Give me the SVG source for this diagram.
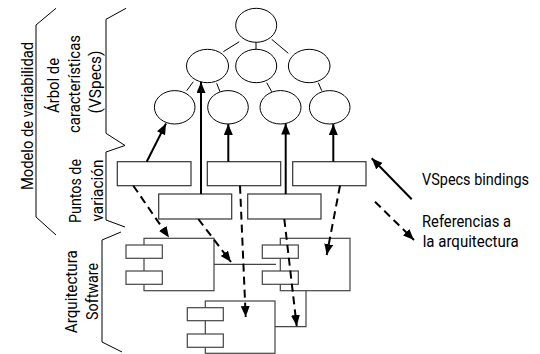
<svg xmlns="http://www.w3.org/2000/svg" width="540" height="354" viewBox="0 0 540 354">
<defs>
<style>
.t{font-family:Roboto,"Liberation Sans",sans-serif;font-size:17px;fill:#000}
.br{fill:none;stroke:#000;stroke-width:1}
.ell{fill:#fff;stroke:#000;stroke-width:1}
.tl{stroke:#000;stroke-width:1;fill:none}
.box{fill:#fff;stroke:#333;stroke-width:1.2}
.cmp{fill:#fff;stroke:#444;stroke-width:1.2}
.cl{fill:none;stroke:#444;stroke-width:1.2}
.sa{stroke:#000;stroke-width:2;fill:none;marker-end:url(#ah)}
.da{stroke:#000;stroke-width:2;fill:none;stroke-dasharray:8,5;marker-end:url(#ah)}
</style>
<marker id="ah" markerUnits="userSpaceOnUse" markerWidth="12" markerHeight="10" refX="11" refY="4.5" orient="auto">
<path d="M0,0 L11,4.5 L0,9 z" fill="#000"/>
</marker>
</defs>
<rect width="540" height="354" fill="#fff"/>

<g id="brackets">
<polyline class="br" points="56,8.3 36,25 36,217 56,235"/>
<polyline class="br" points="126,8.3 106,19.3 106,133.3 125,145.5 106,152 106,220 125,227"/>
<polyline class="br" points="121,232 102,240 102,342 122,352"/>
</g>

<g id="labels">
<text class="t" text-anchor="middle" transform="translate(33,116) rotate(-90)" textLength="148" lengthAdjust="spacingAndGlyphs">Modelo de variabilidad</text>
<text class="t" text-anchor="middle" transform="translate(58.5,85.5) rotate(-90)" textLength="55" lengthAdjust="spacingAndGlyphs">Árbol de</text>
<text class="t" text-anchor="middle" transform="translate(79.5,84) rotate(-90)" textLength="98" lengthAdjust="spacingAndGlyphs">características</text>
<text class="t" text-anchor="middle" transform="translate(100.5,82) rotate(-90)" textLength="63" lengthAdjust="spacingAndGlyphs">(VSpecs)</text>
<text class="t" text-anchor="middle" transform="translate(81,191) rotate(-90)" textLength="64" lengthAdjust="spacingAndGlyphs">Puntos de</text>
<text class="t" text-anchor="middle" transform="translate(102.5,190.5) rotate(-90)" textLength="62" lengthAdjust="spacingAndGlyphs">variación</text>
<text class="t" text-anchor="middle" transform="translate(77,291.7) rotate(-90)" textLength="83" lengthAdjust="spacingAndGlyphs">Arquitectura</text>
<text class="t" text-anchor="middle" transform="translate(98.3,291.4) rotate(-90)" textLength="57" lengthAdjust="spacingAndGlyphs">Software</text>
</g>

<g id="tree-edges">
<line class="tl" x1="239.3" y1="41.7" x2="223.3" y2="51.7"/>
<line class="tl" x1="256" y1="42" x2="256" y2="50"/>
<line class="tl" x1="271.7" y1="39.3" x2="288.3" y2="53.3"/>
<line class="tl" x1="193.3" y1="81.7" x2="186.7" y2="90.7"/>
<line class="tl" x1="216.7" y1="83.3" x2="220" y2="91.7"/>
<line class="tl" x1="266.7" y1="82.7" x2="271.7" y2="91.7"/>
<line class="tl" x1="318.3" y1="82.7" x2="321.7" y2="90.7"/>
</g>

<g id="f-root"><ellipse class="ell" cx="256.2" cy="25.3" rx="20.5" ry="17"/></g>
<g id="f-a"><ellipse class="ell" cx="207.5" cy="66" rx="21" ry="16.7"/></g>
<g id="f-b"><ellipse class="ell" cx="256.2" cy="66" rx="20.5" ry="16.7"/></g>
<g id="f-c"><ellipse class="ell" cx="309.2" cy="66" rx="20.8" ry="16.7"/></g>
<g id="f-a1"><ellipse class="ell" cx="174.7" cy="107.3" rx="20.3" ry="16.7"/></g>
<g id="f-a2"><ellipse class="ell" cx="228" cy="107.3" rx="20.3" ry="16.7"/></g>
<g id="f-b1"><ellipse class="ell" cx="280.5" cy="107.3" rx="20.5" ry="16.7"/></g>
<g id="f-c1"><ellipse class="ell" cx="329.7" cy="107.3" rx="20.3" ry="16.7"/></g>

<g id="vp1"><rect class="box" x="117.3" y="161.7" width="73.7" height="24"/></g>
<g id="vp2"><rect class="box" x="207.3" y="161.7" width="73.4" height="24"/></g>
<g id="vp3"><rect class="box" x="292.7" y="161.7" width="73.3" height="24"/></g>
<g id="vp4"><rect class="box" x="158.7" y="194" width="73" height="25"/></g>
<g id="vp5"><rect class="box" x="247.7" y="194" width="73.3" height="25"/></g>

<g id="component-links">
<line class="cl" x1="214" y1="264.3" x2="276" y2="264.3"/>
<polyline class="cl" points="306,290.7 306,326.7 275,326.7"/>
</g>

<g id="comp-a">
<rect class="cmp" x="144" y="238.3" width="70" height="52.4"/>
<rect class="cmp" x="126" y="245" width="36.3" height="13.3"/>
<rect class="cmp" x="126" y="271" width="36.3" height="13.3"/>
</g>
<g id="comp-b">
<rect class="cmp" x="280.3" y="238.3" width="69.7" height="52.4"/>
<rect class="cmp" x="262.3" y="245" width="36" height="13.3"/>
<rect class="cmp" x="262.3" y="271" width="36" height="13.3"/>
</g>
<g id="comp-c">
<rect class="cmp" x="205.3" y="301" width="69.7" height="52.3"/>
<rect class="cmp" x="187.3" y="307.7" width="36" height="13"/>
<rect class="cmp" x="187.3" y="334" width="36" height="13.3"/>
</g>

<g id="connectors">
<line class="sa" x1="146.7" y1="161.7" x2="166" y2="123.5"/>
<line class="sa" x1="201" y1="194" x2="201" y2="82"/>
<line class="sa" x1="228.3" y1="161.7" x2="228.3" y2="124"/>
<line class="sa" x1="285.7" y1="194" x2="285.7" y2="123.5"/>
<line class="sa" x1="333.3" y1="161.7" x2="333.3" y2="124"/>
<line class="da" x1="133.3" y1="185.7" x2="169" y2="237.5"/>
<line class="da" x1="198.3" y1="219" x2="231" y2="262"/>
<line class="da" x1="240" y1="185.7" x2="245.7" y2="317"/>
<line class="da" x1="284.3" y1="219" x2="296.7" y2="326"/>
<line class="da" x1="340" y1="185.7" x2="326.7" y2="255"/>
</g>

<g id="legend">
<line class="sa" x1="411.7" y1="199.3" x2="371.7" y2="158.3"/>
<line class="da" x1="375" y1="201.7" x2="414" y2="240"/>
<text class="t" transform="translate(422,185) scale(0.86,1)" textLength="124.4" lengthAdjust="spacingAndGlyphs">VSpecs bindings</text>
<text class="t" transform="translate(422,226.7) scale(0.86,1)" textLength="103.5" lengthAdjust="spacingAndGlyphs">Referencias a</text>
<text class="t" transform="translate(422.7,247.3) scale(0.86,1)" textLength="111.6" lengthAdjust="spacingAndGlyphs">la arquitectura</text>
</g>
</svg>
